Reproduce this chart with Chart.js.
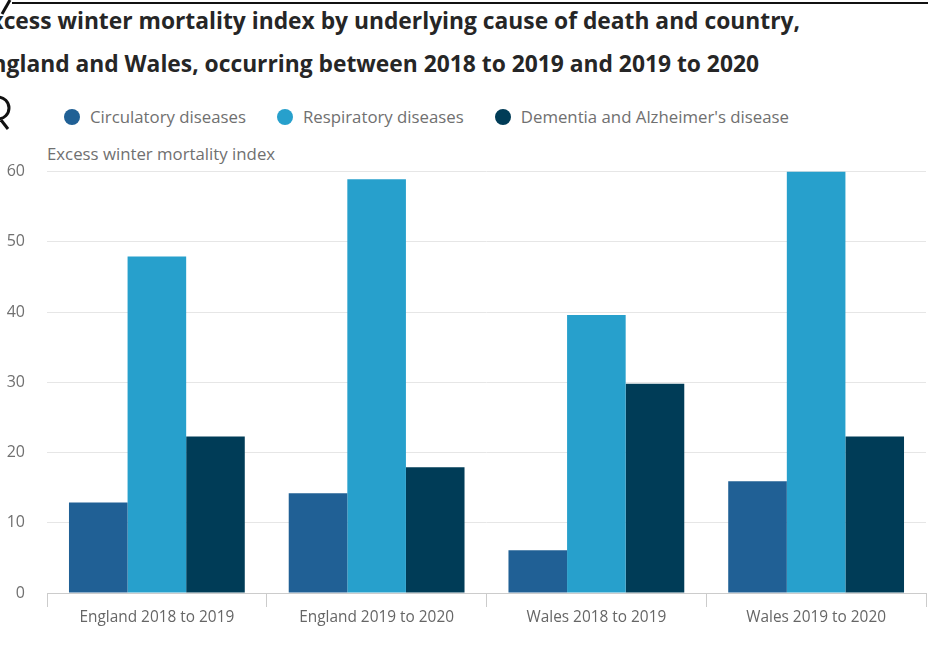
<!DOCTYPE html>
<html>
<head>
<meta charset="utf-8">
<script src="https://cdn.jsdelivr.net/npm/chart.js@4/dist/chart.umd.min.js"></script>
<style>
  html, body { margin: 0; padding: 0; background: #fff; }
  body { width: 928px; height: 655px; overflow: hidden; position: relative; font-family: "Open Sans", sans-serif; }
  .titulo { position: absolute; white-space: nowrap; font-weight: 700; font-size: 22.8px; color: #262626; line-height: 1; }
  #t1 { right: 128px; top: 10px; }
  #t2 { right: 169px; top: 53px; }
  #borde { position: absolute; left: 12px; right: 0; top: 2px; height: 2px; background: #111; }
  #leyenda { position: absolute; left: 64px; top: 105px; display: flex; font-size: 16.8px; color: #707070; }
  .item { display: flex; align-items: center; margin-right: 31px; }
  .punto { width: 16px; height: 16px; border-radius: 50%; margin-right: 10px; }
  #ejeY { position: absolute; left: 47px; top: 142px; font-size: 16.8px; color: #707070; }
  #contenedor { position: absolute; left: 0; top: 140px; width: 928px; height: 490px; }
  svg { position: absolute; left: 0; top: 0; }
</style>
</head>
<body>
<svg width="30" height="140">
  <path d="M10 0 L2 14" stroke="#111" stroke-width="3" fill="none"/>
  <path d="M-2 97 A11 11 0 0 1 -2 119" stroke="#111" stroke-width="3" fill="none"/>
  <path d="M1 120 L8 129" stroke="#111" stroke-width="3" fill="none"/>
</svg>
<div id="borde"></div>
<div class="titulo" id="t1">Excess winter mortality index by underlying cause of death and country,</div>
<div class="titulo" id="t2">England and Wales, occurring between 2018 to 2019 and 2019 to 2020</div>
<div id="leyenda"></div>
<div id="ejeY">Excess winter mortality index</div>
<div id="contenedor"><canvas id="grafico"></canvas></div>
<script>
const categorias = ['England 2018 to 2019', 'England 2019 to 2020', 'Wales 2018 to 2019', 'Wales 2019 to 2020'];
const series = ['Circulatory diseases', 'Respiratory diseases', "Dementia and Alzheimer's disease"];
const circulatorias = [12.9, 14.2, 6.1, 15.9];
const respiratorias = [47.9, 58.9, 39.6, 60.0];
const demencia = [22.3, 17.9, 29.8, 22.3];
const colores = ['#206095', '#27a0cc', '#003c57'];
const valores = [circulatorias, respiratorias, demencia];

// leyenda en html
let leyenda = document.querySelector('#leyenda');
series.forEach((nombre, i) => {
    let item = document.createElement('div');
    item.className = 'item';
    item.innerHTML = `<span class="punto" style="background:${colores[i]}"></span><span>${nombre}</span>`;
    leyenda.appendChild(item);
});

let grafico = document.querySelector('#grafico');
let g = new Chart(grafico, {
    type: 'bar',
    data: {
        labels: categorias,
        datasets: series.map((nombre, i) => ({
            label: nombre,
            data: valores[i],
            backgroundColor: colores[i],
            categoryPercentage: 0.8,
            barPercentage: 1.0
        }))
    },
    options: {
        responsive: true,
        maintainAspectRatio: false,
        animation: false,
        layout: { padding: { top: 10, right: 2, left: 0, bottom: 0 } },
        plugins: {
            legend: { display: false },
            title: { display: false },
            tooltip: { enabled: false }
        },
        scales: {
            x: {
                grid: {
                    offset: true,
                    drawOnChartArea: false,
                    drawTicks: true,
                    tickLength: 14,
                    color: '#cccccc'
                },
                border: { color: '#cccccc' },
                ticks: {
                    font: { family: 'Open Sans', size: 15.4 },
                    color: '#666666',
                    padding: 1
                },
                afterFit: (s) => { s.height = 37; }
            },
            y: {
                min: 0,
                max: 60,
                ticks: {
                    stepSize: 10,
                    font: { family: 'Open Sans', size: 16 },
                    color: '#707070',
                    padding: 22
                },
                grid: { color: '#e6e6e6', drawTicks: false },
                border: { display: false },
                afterFit: (s) => { s.width = 47; }
            }
        }
    }
});
</script>
</body>
</html>
